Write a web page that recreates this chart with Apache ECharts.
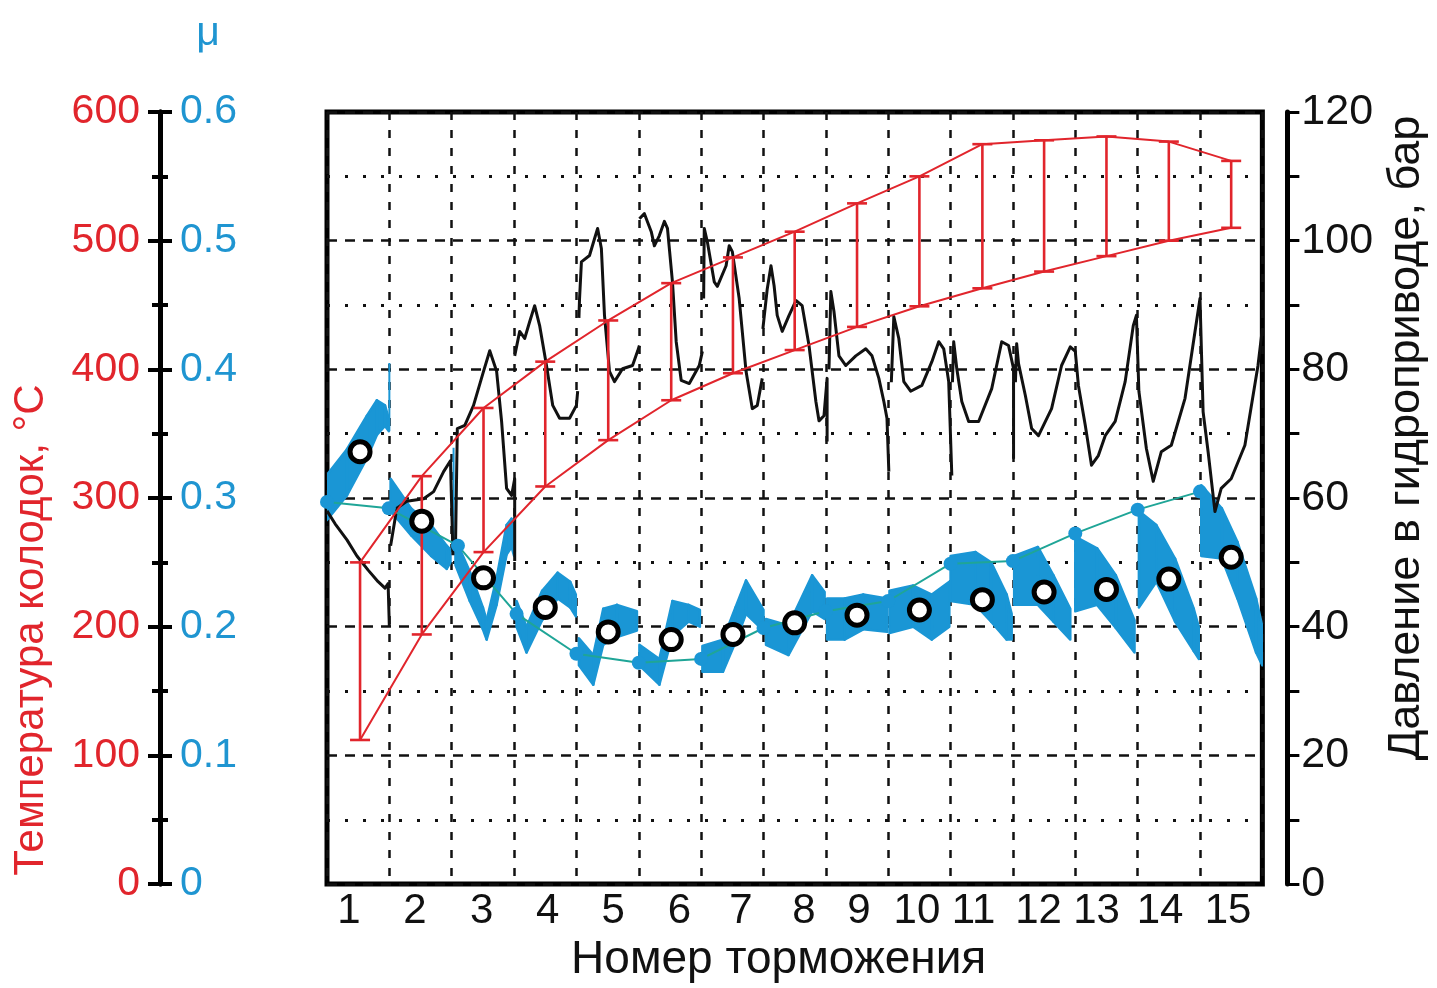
<!DOCTYPE html>
<html>
<head>
<meta charset="utf-8">
<script src="https://cdn.jsdelivr.net/npm/echarts@6/dist/echarts.min.js"></script>
<style>
  html, body { margin: 0; padding: 0; background: #fff; }
  #chart { width: 1437px; height: 988px; }
</style>
</head>
<body>
<div id="chart"></div>
<script>
// номера торможений (подписи оси X) и их положение
const xTickPos = [0.35, 1.41, 2.48, 3.54, 4.59, 5.65, 6.64, 7.65, 8.53, 9.46, 10.37, 11.41, 12.34, 13.36, 14.45];
const xTickLabels = ['1', '2', '3', '4', '5', '6', '7', '8', '9', '10', '11', '12', '13', '14', '15'];

// середины торможений: температура колодок (разброс) и средний μ
const brakeX = [0.53, 1.52, 2.51, 3.5, 4.51, 5.52, 6.51, 7.5, 8.5, 9.5, 10.51, 11.5, 12.5, 13.5, 14.5];
const tempHigh = [250, 317, 370, 406, 438, 467, 487, 507, 529, 550, 575, 578, 581, 577, 562];
const tempLow = [112, 194, 258, 309, 345, 376, 397, 415, 433, 449, 463, 476, 488, 500, 510];
const muMean = [0.336, 0.282, 0.238, 0.215, 0.196, 0.19, 0.194, 0.203, 0.209, 0.213, 0.221, 0.227, 0.229, 0.237, 0.254];

// μ в начале каждого торможения
const muStartX = [0, 0.99, 2.1, 3.04, 4.0, 5.0, 6.0, 7.0, 8.0, 9.0, 10.0, 11.0, 12.0, 13.0, 14.0];
const muStart = [0.297, 0.292, 0.263, 0.21, 0.179, 0.172, 0.175, 0.199, 0.212, 0.22, 0.249, 0.251, 0.2725, 0.291, 0.305];

// запись μ: [x, нижняя граница, верхняя граница], null - разрыв между торможениями
const muBand = [
  [0, 0.283, 0.318], [0.32, 0.302, 0.338], [0.64, 0.331, 0.364], [0.8, 0.349, 0.376], [0.93, 0.356, 0.372], [0.99, 0.352, 0.362], null,
  [1.02, 0.29, 0.315], [1.35, 0.271, 0.292], [1.67, 0.255, 0.279], [1.92, 0.245, 0.263], [1.98, 0.25, 0.26], null,
  [2.06, 0.248, 0.268], [2.29, 0.22, 0.243], [2.5, 0.198, 0.215], [2.56, 0.19, 0.205], [2.72, 0.217, 0.238], [2.88, 0.256, 0.279], [2.96, 0.262, 0.284], [3.0, 0.255, 0.278], null,
  [3.04, 0.2, 0.22], [3.2, 0.18, 0.2], [3.45, 0.205, 0.228], [3.7, 0.222, 0.242], [3.9, 0.215, 0.235], [3.99, 0.208, 0.225], null,
  [4.04, 0.17, 0.191], [4.27, 0.155, 0.178], [4.43, 0.186, 0.214], [4.65, 0.192, 0.217], [4.97, 0.197, 0.212], null,
  [5.01, 0.17, 0.186], [5.33, 0.155, 0.175], [5.54, 0.193, 0.22], [5.8, 0.204, 0.217], [5.98, 0.2, 0.213], null,
  [6.02, 0.165, 0.185], [6.35, 0.165, 0.19], [6.55, 0.188, 0.215], [6.72, 0.21, 0.236], [7.0, 0.197, 0.213], null,
  [7.04, 0.186, 0.206], [7.4, 0.178, 0.201], [7.78, 0.212, 0.24], [7.98, 0.206, 0.227], null,
  [8.02, 0.19, 0.222], [8.3, 0.19, 0.222], [8.6, 0.198, 0.225], [8.98, 0.196, 0.222], null,
  [9.02, 0.195, 0.228], [9.4, 0.2, 0.232], [9.7, 0.19, 0.225], [9.98, 0.2, 0.235], null,
  [10.0, 0.22, 0.255], [10.4, 0.217, 0.258], [10.65, 0.204, 0.25], [10.9, 0.19, 0.225], [10.98, 0.19, 0.21], null,
  [11.02, 0.217, 0.255], [11.4, 0.217, 0.262], [11.65, 0.204, 0.24], [11.92, 0.19, 0.214], null,
  [12.0, 0.212, 0.27], [12.35, 0.217, 0.261], [12.65, 0.199, 0.24], [12.95, 0.18, 0.205], null,
  [13.02, 0.215, 0.29], [13.3, 0.235, 0.279], [13.6, 0.204, 0.253], [13.9, 0.181, 0.214], [13.98, 0.175, 0.2], null,
  [14.02, 0.255, 0.31], [14.35, 0.253, 0.292], [14.6, 0.222, 0.266], [14.9, 0.18, 0.222], [15.0, 0.17, 0.2]
];
// тонкие выбросы μ
const muSpikes = [[1.0, 0.352], [1.0, 0.405], [1.01, null], [2.03, 0.256], [2.03, 0.339]];

// давление в гидроприводе, бар
const pressTrace = [
  [0, 58], [0.13, 56], [0.32, 53.5], [0.48, 51], [0.66, 48.8], [0.82, 47], [0.93, 46], [0.98, 46.7], [1.0, 40], [1.01, null],
  [1.02, 52.6], [1.12, 58.4], [1.28, 59.5], [1.55, 59.9], [1.71, 61], [1.87, 64.1], [1.98, 65.8], [2.02, 51.1], [2.03, null],
  [2.06, 52], [2.09, 70.8], [2.21, 71.3], [2.35, 74.4], [2.51, 79.7], [2.61, 82.9], [2.72, 79.7], [2.8, 71.9], [2.88, 61.5], [2.96, 60.4], [3.01, 63], [3.01, 50.2], [3.02, null],
  [3.01, 82.1], [3.09, 85.9], [3.17, 84.8], [3.25, 87.4], [3.33, 89.9], [3.41, 86.8], [3.52, 80.6], [3.62, 74.4], [3.73, 72.4], [3.89, 72.4], [4.0, 74.4], [4.02, 76.6], [4.03, null],
  [4.04, 88], [4.05, 91], [4.08, 96.7], [4.21, 97.7], [4.29, 100.3], [4.34, 101.9], [4.4, 98.8], [4.45, 88.4], [4.53, 79.7], [4.61, 78.1], [4.74, 80.1], [4.9, 80.6], [4.98, 82.8], [5.01, 83.7], [5.01, null],
  [5.01, 103.4], [5.09, 104.2], [5.2, 101.4], [5.25, 99.2], [5.33, 100.8], [5.41, 103], [5.46, 101.9], [5.54, 93.6], [5.6, 84.3], [5.68, 78.3], [5.81, 77.8], [5.97, 80.6], [6.02, 82.8], [6.03, null],
  [6.04, 91], [6.05, 101.9], [6.1, 99.8], [6.21, 93.6], [6.26, 92.9], [6.4, 96.1], [6.45, 99.2], [6.5, 98.3], [6.61, 91], [6.72, 79.7], [6.82, 73.9], [6.9, 74.4], [6.98, 78.6], [6.985, null],
  [6.99, 86.3], [7.06, 92.5], [7.12, 96.1], [7.17, 93], [7.22, 88.4], [7.3, 85.9], [7.41, 88.4], [7.52, 90.7], [7.62, 89.9], [7.73, 83.7], [7.84, 75], [7.89, 72], [7.97, 72.8], [8.02, 78.6], [8.02, 68.8], [8.03, null],
  [8.05, 80], [8.08, 92.1], [8.13, 89], [8.21, 82.1], [8.32, 80.6], [8.48, 82.1], [8.64, 83.2], [8.74, 82.1], [8.85, 78.6], [8.93, 75], [8.98, 72.4], [9.01, 64.1], [9.02, null],
  [9.05, 78], [9.09, 88.2], [9.17, 84.8], [9.25, 78.1], [9.36, 76.6], [9.54, 77.5], [9.7, 81.2], [9.81, 84.3], [9.89, 83.2], [9.97, 78.1], [10.02, 63.5], [10.025, null],
  [10.03, 78], [10.05, 84.3], [10.1, 80.1], [10.18, 75], [10.29, 71.9], [10.45, 71.9], [10.66, 77], [10.82, 84.3], [10.93, 83.7], [11.01, 80.1], [11.01, 66.1], [11.02, null],
  [11.04, 78], [11.06, 84], [11.09, 80.9], [11.2, 75.9], [11.3, 70.8], [11.41, 69.7], [11.62, 73.9], [11.78, 80.6], [11.92, 83.5], [12.0, 82.8],
  [12.05, 77.5], [12.16, 71.3], [12.26, 65.1], [12.37, 66.6], [12.48, 69.7], [12.64, 71.9], [12.8, 78.1], [12.93, 86.8], [12.98, 88.4],
  [13.02, 76.6], [13.14, 67.7], [13.25, 62.6], [13.38, 67.2], [13.54, 68.2], [13.76, 75.5], [13.92, 85.9], [14.0, 91],
  [14.05, 73.4], [14.13, 67.2], [14.24, 57.9], [14.34, 61.5], [14.5, 63], [14.72, 68.2], [14.93, 80.6], [15.0, 86.3]
];

const RED = '#e1252c';
const BLUE = '#1a96d5';
const BLUE_TXT = '#1f95d1';
const TEAL = '#1fa597';
const FONT = "'Liberation Sans', Arial, sans-serif";
const FONT_NARROW = "'Liberation Sans Narrow', 'Liberation Sans', sans-serif";

// полосы μ в виде четырёхугольников между соседними точками
const bandQuads = [];
for (let i = 0; i < muBand.length - 1; i++) {
  if (muBand[i] && muBand[i + 1]) bandQuads.push(muBand[i].concat(muBand[i + 1]));
}

var chart = echarts.init(document.getElementById('chart'));

var option = {
  animation: false,
  backgroundColor: '#fff',
  grid: { left: 327, right: 172, top: 112, bottom: 101, show: true, borderColor: '#000', borderWidth: 5, containLabel: false },
  xAxis: [
    {
      type: 'value', min: 0, max: 15, interval: 1,
      axisLine: { show: false, onZero: false }, axisTick: { show: false }, axisLabel: { show: false },
      splitLine: { show: true, lineStyle: { color: '#111', width: 2.5, type: [8, 10] } }
    },
    {
      type: 'value', min: 0, max: 15, position: 'bottom',
      axisLine: { show: false, onZero: false }, axisTick: { show: false }, splitLine: { show: false },
      axisLabel: {
        customValues: xTickPos,
        formatter: function (v) {
          const i = xTickPos.findIndex(p => Math.abs(p - v) < 1e-6);
          return i >= 0 ? xTickLabels[i] : '';
        },
        fontSize: 42, fontFamily: FONT_NARROW, color: '#111', margin: 6
      },
      name: 'Номер торможения', nameLocation: 'middle', nameGap: 52,
      nameTextStyle: { fontSize: 46, fontFamily: FONT, color: '#111', padding: [0, 32, 0, 0] }
    }
  ],
  yAxis: [
    {
      // температура
      type: 'value', min: 0, max: 600, interval: 100, position: 'left', offset: 167,
      axisLine: { show: true, onZero: false, lineStyle: { color: '#000', width: 5 } },
      axisTick: { show: true, length: 12, lineStyle: { color: '#000', width: 4 } },
      minorTick: { show: true, splitNumber: 2, length: 8, lineStyle: { color: '#000', width: 4 } },
      axisLabel: { color: RED, fontSize: 41, fontFamily: FONT, margin: 20 },
      splitLine: { show: false },
      name: 'Температура колодок, °C', nameLocation: 'middle', nameRotate: 90, nameGap: 108,
      nameTextStyle: { color: RED, fontSize: 42, fontFamily: FONT, padding: [0, 264, 0, 0] }
    },
    {
      // μ
      type: 'value', min: 0, max: 0.6, interval: 0.1, position: 'left', offset: 167,
      axisLine: { show: true, onZero: false, lineStyle: { color: '#000', width: 5 } },
      axisTick: { show: true, inside: true, length: 12, lineStyle: { color: '#000', width: 4 } },
      minorTick: { show: true, splitNumber: 2, length: 8, lineStyle: { color: '#000', width: 4 } },
      axisLabel: { inside: true, color: BLUE_TXT, fontSize: 41, fontFamily: FONT, margin: 20 },
      splitLine: { show: false },
      name: 'μ', nameLocation: 'end', nameGap: 58,
      nameTextStyle: { color: BLUE_TXT, fontSize: 41, fontFamily: FONT, padding: [0, 0, 0, 96] }
    },
    {
      // давление
      type: 'value', min: 0, max: 120, interval: 20, position: 'right', offset: 25,
      axisLine: { show: true, onZero: false, lineStyle: { color: '#000', width: 5 } },
      axisTick: { show: true, length: 12, lineStyle: { color: '#000', width: 3 } },
      minorTick: { show: true, splitNumber: 2, length: 12, lineStyle: { color: '#000', width: 3 } },
      axisLabel: { color: '#111', fontSize: 43, fontFamily: FONT, margin: 14 },
      splitLine: { show: true, lineStyle: { color: '#111', width: 2.5, type: [10, 8] } },
      minorSplitLine: { show: true, lineStyle: { color: '#111', width: 3, type: [3, 15] } },
      name: 'Давление в гидроприводе, бар', nameLocation: 'middle', nameRotate: 90, nameGap: 94,
      nameTextStyle: { color: '#111', fontSize: 45, fontFamily: FONT, padding: [0, 0, 0, 120] }
    }
  ],
  series: [
    {
      name: 'μ запись', type: 'custom', xAxisIndex: 0, yAxisIndex: 1, clip: true,
      encode: { x: [0, 3], y: [1, 2, 4, 5] },
      data: bandQuads,
      renderItem: function (params, api) {
        const a = api.coord([api.value(0), api.value(1)]);
        const b = api.coord([api.value(0), api.value(2)]);
        const c = api.coord([api.value(3), api.value(5)]);
        const d = api.coord([api.value(3), api.value(4)]);
        return { type: 'polygon', shape: { points: [a, b, c, d] }, style: { fill: BLUE, stroke: BLUE, lineWidth: 2.5, lineJoin: 'round' } };
      },
      z: 2
    },
    {
      name: 'μ выбросы', type: 'line', xAxisIndex: 0, yAxisIndex: 1, data: muSpikes,
      showSymbol: false, lineStyle: { color: BLUE, width: 2 }, z: 2
    },
    {
      name: 'давление', type: 'line', xAxisIndex: 0, yAxisIndex: 2, data: pressTrace,
      showSymbol: false, connectNulls: false, lineStyle: { color: '#111', width: 3, join: 'round' }, z: 3
    },
    {
      name: 'μ нач', type: 'line', xAxisIndex: 0, yAxisIndex: 1,
      data: muStartX.map((x, i) => [x, muStart[i]]),
      symbol: 'circle', symbolSize: 14, showSymbol: true,
      itemStyle: { color: BLUE, opacity: 1 }, lineStyle: { color: TEAL, width: 2 }, z: 4
    },
    {
      name: 't верх', type: 'line', xAxisIndex: 0, yAxisIndex: 0,
      data: brakeX.map((x, i) => [x, tempHigh[i]]),
      showSymbol: false, lineStyle: { color: RED, width: 2 }, z: 5
    },
    {
      name: 't низ', type: 'line', xAxisIndex: 0, yAxisIndex: 0,
      data: brakeX.map((x, i) => [x, tempLow[i]]),
      showSymbol: false, lineStyle: { color: RED, width: 2 }, z: 5
    },
    {
      name: 't разброс', type: 'custom', xAxisIndex: 0, yAxisIndex: 0,
      encode: { x: 0, y: [1, 2] },
      data: brakeX.map((x, i) => [x, tempLow[i], tempHigh[i]]),
      renderItem: function (params, api) {
        const lo = api.coord([api.value(0), api.value(1)]);
        const hi = api.coord([api.value(0), api.value(2)]);
        const w = 10;
        const st = { stroke: RED, lineWidth: 2.6 };
        return {
          type: 'group',
          children: [
            { type: 'line', shape: { x1: hi[0], y1: hi[1], x2: lo[0], y2: lo[1] }, style: st },
            { type: 'line', shape: { x1: hi[0] - w, y1: hi[1], x2: hi[0] + w, y2: hi[1] }, style: st },
            { type: 'line', shape: { x1: lo[0] - w, y1: lo[1], x2: lo[0] + w, y2: lo[1] }, style: st }
          ]
        };
      },
      z: 5
    },
    {
      name: 'μ средн', type: 'scatter', xAxisIndex: 0, yAxisIndex: 1,
      data: brakeX.map((x, i) => [x, muMean[i]]),
      symbol: 'circle', symbolSize: 20,
      itemStyle: { color: '#fff', borderColor: '#000', borderWidth: 5, opacity: 1 }, z: 6
    }
  ]
};

chart.setOption(option);
</script>
</body>
</html>
